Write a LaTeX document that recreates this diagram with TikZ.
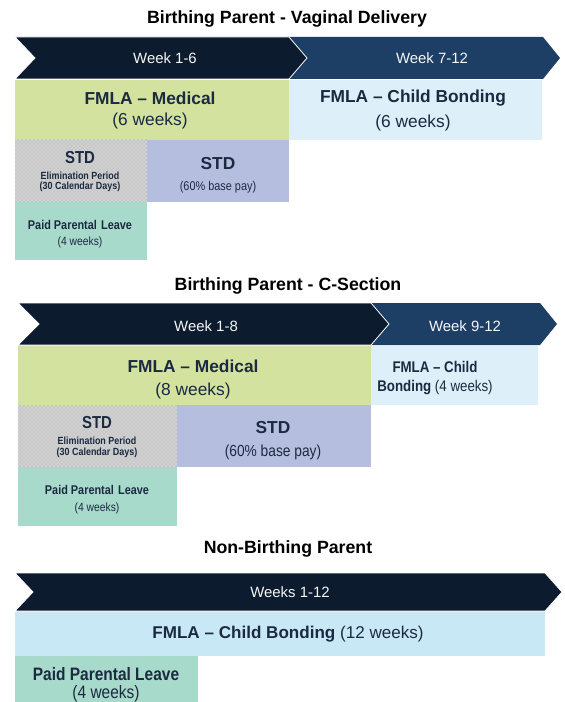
\documentclass[tikz,border=0pt]{standalone}
\usepackage{fontspec}
\setmainfont{Liberation Sans}
\newfontfamily\narrow[FakeStretch=0.86,Ligatures=TeX]{Liberation Sans}
\usetikzlibrary{patterns}
\definecolor{navy}{HTML}{0C1B2D}
\definecolor{blueC}{HTML}{1D3F66}
\definecolor{greenF}{HTML}{D3E29E}
\definecolor{lblue}{HTML}{DDF0F9}
\definecolor{lblueB}{HTML}{C8E8F6}
\definecolor{lav}{HTML}{B6BEE0}
\definecolor{teal}{HTML}{A7DACA}
\definecolor{grayE}{HTML}{D2D2D2}
\definecolor{txt}{HTML}{1B2A41}
\newcommand{\fs}[1]{\fontsize{#1}{#1}\selectfont}
\tikzset{
  lbl/.style={inner sep=0pt, text=txt, align=center},
  ttl/.style={inner sep=0pt, text=black, font=\bfseries\fs{13.3}},
  wk/.style={inner sep=0pt, text=white!92!gray, font=\fs{11.2}},
  chev/.style={draw=white, line width=0.6pt},
}
\begin{document}
\begin{tikzpicture}[x=0.75pt,y=-0.75pt]
\useasboundingbox (0,0) rectangle (564,702);
\fill[white] (0,0) rectangle (564,702);

% ---------------- Section 1 ----------------
\node[ttl] (t1) at (287,19) {Birthing Parent - Vaginal Delivery};
\fill[blueC] (287,37) -- (543,37) -- (560,58) -- (543,79) -- (287,79) -- (306,58) -- cycle;
\path[chev, fill=navy] (15,37) -- (289,37) -- (307,58) -- (289,79) -- (15,79) -- (35,58) -- cycle;
\node[wk] (w16) at (165,58) {Week 1-6};
\node[wk] (w712) at (432,58) {Week 7-12};
\fill[greenF] (15,80) rectangle (289,140);
\fill[lblue] (289,80) rectangle (542,140);
\node[lbl, font=\bfseries\fs{13}] (fm1) at (150,98) {FMLA \textendash{} Medical};
\node[lbl, font=\fs{13}] (fm1w) at (150,121) {(6 weeks)};
\node[lbl, font=\bfseries\fs{13}] (cb1) at (413,98) {FMLA \textendash{} Child Bonding};
\node[lbl, font=\fs{13}] (cb1w) at (413,123) {(6 weeks)};
\fill[grayE] (15,140) rectangle (147,202);
\fill[pattern=crosshatch dots, pattern color=gray!75] (15,140) rectangle (147,202);
\fill[lav] (147,140) rectangle (289,202);
\fill[teal] (15,202) rectangle (147,260);
\node[lbl, font=\narrow\bfseries\fs{13}] (s1a) at (80,158) {STD};
\node[lbl, font=\narrow\bfseries\fs{7.8}] (s1b) at (80,176) {Elimination Period};
\node[lbl, font=\narrow\bfseries\fs{7.8}] (s1c) at (80,187) {(30 Calendar Days)};
\node[lbl, font=\bfseries\fs{13}] (s1d) at (218,164) {STD};
\node[lbl, font=\narrow\fs{9.5}] (s1e) at (218,187) {(60\% base pay)};
\node[lbl, font=\narrow\bfseries\fs{9.5}] (p1a) at (80,225) {Paid Parental\,\,Leave};
\node[lbl, font=\narrow\fs{9}] (p1b) at (80,242) {(4 weeks)};

% ---------------- Section 2 ----------------
\node[ttl] (t2) at (288,286) {Birthing Parent - C-Section};
\fill[blueC] (370,303) -- (540,303) -- (557,324) -- (540,345) -- (370,345) -- (388,324) -- cycle;
\path[chev, fill=navy] (18,303) -- (371,303) -- (389,324) -- (371,345) -- (18,345) -- (39,324) -- cycle;
\node[wk] (w18) at (206,326) {Week 1-8};
\node[wk] (w912) at (465,326) {Week 9-12};
\fill[greenF] (18,346) rectangle (371,405);
\fill[lblue] (371,346) rectangle (538,405);
\node[lbl, font=\bfseries\fs{13}] (fm2) at (193,366) {FMLA \textendash{} Medical};
\node[lbl, font=\fs{13}] (fm2w) at (193,391) {(8 weeks)};
\node[lbl, font=\narrow\bfseries\fs{11.6}] (cb2a) at (435,367) {FMLA \textendash{} Child};
\node[lbl, font=\narrow\fs{11.6}] (cb2b) at (435,388) {\bfseries Bonding \mdseries(4 weeks)};
\fill[grayE] (18,405) rectangle (177,467);
\fill[pattern=crosshatch dots, pattern color=gray!75] (18,405) rectangle (177,467);
\fill[lav] (177,405) rectangle (371,467);
\fill[teal] (18,467) rectangle (177,526);
\node[lbl, font=\narrow\bfseries\fs{13}] (s2a) at (97,423) {STD};
\node[lbl, font=\narrow\bfseries\fs{7.8}] (s2b) at (97,441) {Elimination Period};
\node[lbl, font=\narrow\bfseries\fs{7.8}] (s2c) at (97,453) {(30 Calendar Days)};
\node[lbl, font=\bfseries\fs{13}] (s2d) at (273,428) {STD};
\node[lbl, font=\narrow\fs{12}] (s2e) at (273,452) {(60\% base pay)};
\node[lbl, font=\narrow\bfseries\fs{9.5}] (p2a) at (97,490) {Paid Parental\,\,Leave};
\node[lbl, font=\narrow\fs{9}] (p2b) at (97,508) {(4 weeks)};

% ---------------- Section 3 ----------------
\node[ttl] (t3) at (288,549) {Non-Birthing Parent};
\path[chev, fill=navy] (15,573) -- (545,573) -- (562,592) -- (545,611) -- (15,611) -- (33,592) -- cycle;
\node[wk] (w112) at (290,592) {Weeks 1-12};
\fill[lblueB] (15,612) rectangle (545,656);
\node[lbl, font=\fs{12.8}] (cb3) at (288,634) {\bfseries FMLA \textendash{} Child Bonding \mdseries(12 weeks)};
\fill[teal] (15,656) rectangle (198,702);
\node[lbl, font=\narrow\bfseries\fs{13.5}] (p3a) at (106,674) {Paid Parental Leave};
\node[lbl, font=\narrow\fs{13.5}] (p3b) at (106,694) {(4 weeks)};
\end{tikzpicture}
\end{document}
